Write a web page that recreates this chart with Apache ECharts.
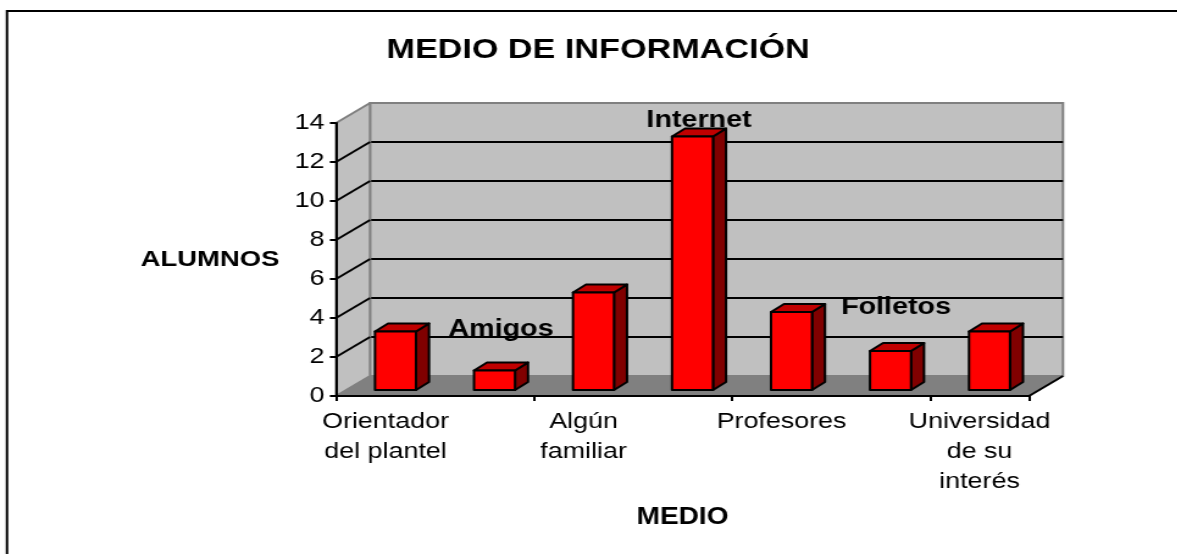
<!DOCTYPE html>
<html>
<head>
<meta charset="UTF-8"/>
<title>Medio de información</title>
<style>
html, body { margin:0; padding:0; background:#fff; overflow:hidden; }
/* the reference is a picture pulled wider than it is tall, text included */
#main { width:965px; height:554px; transform:scaleX(1.22); transform-origin:0 0; }
</style>
<script src="https://cdn.jsdelivr.net/npm/echarts@6/dist/echarts.min.js"></script>
</head>
<body>
<div id="main"></div>
<script>
var chartTitle = 'MEDIO DE INFORMACIÓN';
var xName = 'MEDIO';
var yName = 'ALUMNOS';
var categories = ['Orientador\ndel plantel', 'Amigos', 'Algún\nfamiliar', 'Internet', 'Profesores', 'Folletos', 'Universidad\nde su\ninterés'];
var alumnos = [3, 1, 5, 13, 4, 2, 3];
var yTicks = [0, 2, 4, 6, 8, 10, 12, 14];

var STRETCH = 1.22;
function sx(x) { return x / STRETCH; }

// depth of the fake 3d box, and of the bars standing inside it
var depthX = sx(34), depthY = -20;
var barShiftX = sx(10), barShiftY = -6;
var barW = sx(41), barDepthX = sx(13), barDepthY = -8;

var dom = document.getElementById('main');
var myChart = echarts.init(dom);

function poly(points, fill, stroke, width) {
    return {
        type: 'polygon',
        shape: { points: points },
        style: { fill: fill, stroke: stroke, lineWidth: width, lineJoin: 'round' }
    };
}

function renderBox(params, api) {
    var a = api.coord([0, 0]);
    var rect = params.coordSys;
    var x0 = rect.x, x1 = rect.x + rect.width, y0 = a[1], y1 = rect.y;
    return {
        type: 'group',
        children: [
            poly([[x0, y0], [x0 + depthX, y0 + depthY], [x0 + depthX, y1 + depthY], [x0, y1]], '#c0c0c0', '#808080', 2),
            poly([[x0, y0], [x0 + depthX, y0 + depthY], [x1 + depthX, y0 + depthY], [x1, y0]], '#808080', '#808080', 1),
            { type: 'line', shape: { x1: x1, y1: y0, x2: x1 + depthX, y2: y0 + depthY }, style: { stroke: '#000', lineWidth: 2 } }
        ]
    };
}

function renderWallTick(params, api) {
    var p = api.coord([0, api.value(0)]);
    var x = params.coordSys.x;
    var v = api.value(0);
    if (v === 0 || v === 14) {
        return null;
    }
    return {
        type: 'line',
        shape: { x1: x, y1: p[1], x2: x + depthX, y2: p[1] + depthY },
        style: { stroke: '#000', lineWidth: 2 }
    };
}

function renderBar(params, api) {
    var base = api.coord([api.value(0), 0]);
    var top = api.coord([api.value(0), api.value(1)]);
    var l = base[0] + barShiftX - barW / 2, r = l + barW;
    var b = base[1] + barShiftY, t = top[1] + barShiftY;
    return {
        type: 'group',
        children: [
            poly([[r, b], [r + barDepthX, b + barDepthY], [r + barDepthX, t + barDepthY], [r, t]], '#800000', '#000', 2),
            poly([[l, t], [l + barDepthX, t + barDepthY], [r + barDepthX, t + barDepthY], [r, t]], '#c00000', '#000', 2),
            poly([[l, b], [l, t], [r, t], [r, b]], '#ff0000', '#000', 2)
        ]
    };
}

// three category names were dragged into the plot by hand in the original
function movedLabel(name, x, y) {
    return {
        type: 'text', z: 20, x: sx(x), y: y,
        style: {
            text: name, fill: '#000', align: 'center', verticalAlign: 'middle',
            font: 'bold 23.5px "Liberation Sans", Arial, sans-serif'
        }
    };
}

var option = {
    backgroundColor: '#fff',
    animation: false,
    textStyle: { fontFamily: '"Liberation Sans", Arial, sans-serif', color: '#000' },
    title: {
        text: chartTitle,
        left: sx(592),
        top: 31,
        textAlign: 'center',
        textStyle: { fontSize: 28, fontWeight: 'bold', color: '#000' }
    },
    grid: [
        { left: sx(336), top: 123, width: sx(693), height: 273, outerBoundsMode: 'none' },
        { left: sx(370), top: 103, width: sx(693), height: 273, outerBoundsMode: 'none', show: true,
          backgroundColor: '#c0c0c0', borderColor: '#808080', borderWidth: 2, z: 0 }
    ],
    xAxis: [
        {
            type: 'category', gridIndex: 0, data: categories, z: 6,
            name: xName, nameLocation: 'middle', nameGap: 122,
            nameTextStyle: { fontSize: 23, fontWeight: 'bold', color: '#000', verticalAlign: 'middle' },
            axisLine: { lineStyle: { color: '#000', width: 2 } },
            axisTick: { show: true, length: 5, alignWithLabel: false, lineStyle: { color: '#000', width: 2 } },
            axisLabel: { interval: 1, margin: 11, fontSize: 22, lineHeight: 30, color: '#000', hideOverlap: false },
            splitLine: { show: false }
        },
        { type: 'category', gridIndex: 1, data: categories, show: false }
    ],
    yAxis: [
        {
            type: 'value', gridIndex: 0, min: 0, max: 14, interval: 2, z: 6,
            name: yName, nameLocation: 'middle', nameRotate: 0, nameGap: sx(126),
            nameTextStyle: { fontSize: 22.5, fontWeight: 'bold', color: '#000', align: 'center', verticalAlign: 'middle', padding: [2, 0, 0, 0] },
            axisLine: { show: true, lineStyle: { color: '#000', width: 2 } },
            axisTick: { show: true, length: 5, lineStyle: { color: '#000', width: 2 } },
            axisLabel: { margin: 9.5, fontSize: 22, color: '#000', padding: [2, 0, 0, 0] },
            splitLine: { show: false }
        },
        {
            type: 'value', gridIndex: 1, min: 0, max: 14, interval: 2, z: 1,
            axisLine: { show: false }, axisTick: { show: false }, axisLabel: { show: false },
            splitLine: { show: true, showMinLine: false, showMaxLine: false, lineStyle: { color: '#000', width: 2 } }
        }
    ],
    series: [
        { type: 'custom', xAxisIndex: 0, yAxisIndex: 0, z: 2, silent: true, data: [[0, 0]], renderItem: renderBox },
        { type: 'custom', xAxisIndex: 0, yAxisIndex: 0, z: 3, silent: true, data: yTicks.map(function (v) { return [v]; }), renderItem: renderWallTick },
        {
            name: yName, type: 'custom', xAxisIndex: 0, yAxisIndex: 0, z: 4,
            data: alumnos.map(function (v, i) { return [i, v]; }),
            encode: { x: 0, y: 1 },
            renderItem: renderBar
        }
    ],
    graphic: [
        { type: 'polyline', z: 20, shape: { points: [[sx(7), 554], [sx(7), 11], [965, 11]] }, style: { stroke: '#000', lineWidth: 2, fill: null } },
        movedLabel(categories[1], 501, 330),
        movedLabel(categories[3], 699, 121),
        movedLabel(categories[5], 896, 308)
    ]
};

myChart.setOption(option, true);
</script>
</body>
</html>
